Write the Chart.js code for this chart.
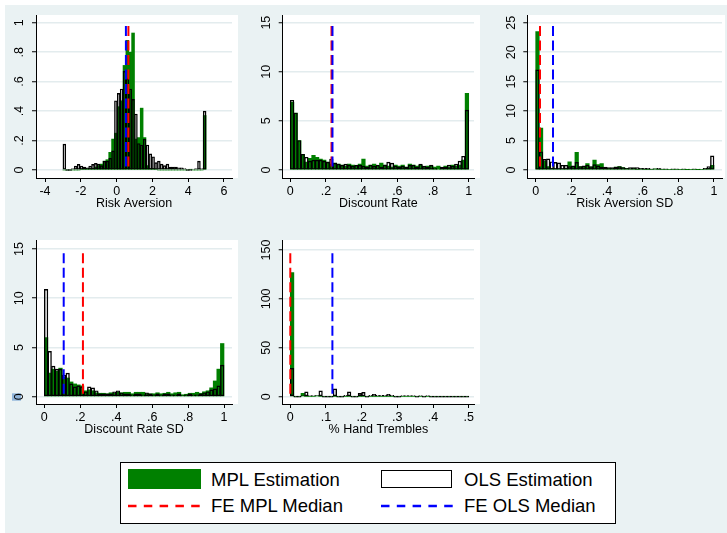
<!DOCTYPE html>
<html>
<head>
<meta charset="utf-8">
<script src="https://cdn.jsdelivr.net/npm/chart.js@4.4.1/dist/chart.umd.min.js"></script>
<style>
  html, body { margin: 0; padding: 0; background: #fff; }
  #page { position: relative; width: 727px; height: 533px; overflow: hidden; background: #fff; }
  #bg { position: absolute; left: 5px; top: 5px; right: 0; bottom: 0; background: #eaf2f3; }
  canvas { position: absolute; }
  #legend { position: absolute; left: 120px; top: 462px; width: 494px; height: 60px;
            border: 1px solid #000; background: #fff;
            font-family: "Liberation Sans", Arial, Helvetica, sans-serif; font-size: 18.5px; color: #000; }
  #legend .key { position: absolute; }
  #legend .txt { position: absolute; height: 22px; line-height: 22px; white-space: nowrap; }
</style>
</head>
<body>
<div id="page">
  <div id="bg"></div>
  <canvas id="p1" width="242" height="215" style="left:0;top:0"></canvas>
  <canvas id="p2" width="242" height="215" style="left:242px;top:0"></canvas>
  <canvas id="p3" width="243" height="215" style="left:484px;top:0"></canvas>
  <canvas id="p4" width="242" height="216" style="left:0;top:225px"></canvas>
  <canvas id="p5" width="242" height="216" style="left:242px;top:225px"></canvas>
  <div id="legend">
    <div class="key" style="left:7px;top:6px;width:73px;height:20px;background:#008000"></div>
    <div class="txt" style="left:90px;top:6px">MPL Estimation</div>
    <div class="key" style="left:260px;top:7px;width:69px;height:16px;border:1.5px solid #000;background:#fff"></div>
    <div class="txt" style="left:343px;top:6px">OLS Estimation</div>
    <svg class="key" style="left:7px;top:40px" width="76" height="6">
      <line x1="0" y1="3" x2="74" y2="3" stroke="#ff0000" stroke-width="2.5" stroke-dasharray="8.5 7.3"/>
    </svg>
    <div class="txt" style="left:90px;top:32px">FE MPL Median</div>
    <svg class="key" style="left:260px;top:40px" width="76" height="6">
      <line x1="0" y1="3" x2="74" y2="3" stroke="#0000ff" stroke-width="2.5" stroke-dasharray="8.5 7.3"/>
    </svg>
    <div class="txt" style="left:343px;top:32px">FE OLS Median</div>
  </div>
</div>
<script>
// ---- Histogram data (density per bin) ----
// Risk Aversion: 50 bins from -3 to 5
const raBinStart = -3, raBinWidth = 0.16;
const raMPL = [0, 0, 0, 0, 0, 0, 0.005, 0.01, 0.01, 0.01,
               0.01, 0.02, 0.03, 0.04, 0.06, 0.07, 0.12, 0.21, 0.25, 0.43,
               0.47, 0.71, 0.88, 0.80, 0.93, 0.21, 0.22, 0.42, 0.22, 0.03,
               0.01, 0.01, 0.005, 0, 0, 0, 0, 0, 0, 0,
               0, 0, 0, 0, 0.005, 0, 0, 0, 0, 0.37];
const raOLS = [0.176, 0, 0, 0.01, 0.027, 0.038, 0.027, 0.02, 0.015, 0.027,
               0.038, 0.045, 0.04, 0.03, 0.06, 0.06, 0.08, 0.13, 0.47, 0.52,
               0.55, 0.67, 0.62, 0.55, 0.48, 0.38, 0.18, 0.17, 0.21, 0.17,
               0.11, 0.09, 0.05, 0.06, 0.04, 0.03, 0.04, 0.02, 0.02, 0.02,
               0.015, 0.015, 0.01, 0, 0, 0.005, 0.01, 0.06, 0.01, 0.40];

// Discount Rate: 50 bins from 0 to 1
const drBinStart = 0, drBinWidth = 0.02;
const drMPL = [6.9, 5.8, 3.0, 1.6, 0.8, 1.2, 1.5, 1.3, 1.1, 1.0,
               0.8, 0.6, 0.7, 0.6, 0.5, 0.4, 0.6, 0.5, 0.4, 0.6,
               1.1, 0.4, 0.5, 0.6, 0.4, 0.7, 0.5, 0.4, 0.3, 0.5,
               0.4, 0.5, 0.3, 0.6, 0.5, 0.4, 0.5, 0.3, 0.4, 0.4,
               0.3, 0.4, 0.2, 0.4, 0.3, 0.5, 0.4, 0.5, 1.0, 7.8];
const drOLS = [7.1, 5.8, 3.0, 1.6, 1.3, 0.9, 1.0, 1.0, 1.0, 0.9,
               0.8, 1.1, 0.7, 0.6, 0.5, 0.6, 0.5, 0.4, 0.5, 0.5,
               0.4, 0.3, 0.5, 0.4, 0.5, 0.3, 0.5, 0.8, 0.7, 0.4,
               0.3, 0.4, 0.3, 0.5, 0.5, 0.3, 0.6, 0.4, 0.3, 0.5,
               0.2, 0.1, 0.3, 0.3, 0.5, 0.4, 0.6, 0.9, 1.4, 6.1];

// Risk Aversion SD: 50 bins from 0 to 1
const rasdBinStart = 0, rasdBinWidth = 0.02;
const rasdMPL = [23.5, 7.1, 1.5, 0.6, 0.3, 0.2, 0.2, 0.2, 0.3, 1.4,
                 0.6, 3.0, 0.6, 0.6, 1.1, 0.5, 1.7, 0.9, 1.1, 0.4,
                 0.3, 0.3, 0.5, 0.6, 0.4, 0.3, 0.2, 0.3, 0.1, 0.2,
                 0.1, 0.1, 0.1, 0.2, 0.1, 0.1, 0.1, 0.1, 0.1, 0.1,
                 0.1, 0.1, 0.05, 0.1, 0.1, 0.05, 0.1, 0.2, 0.3, 0.8];
const rasdOLS = [17.0, 3.1, 1.8, 1.9, 1.4, 1.3, 1.2, 0.8, 0.8, 0.6,
                 0.7, 1.3, 0.6, 0.7, 0.8, 0.6, 0.9, 0.7, 0.5, 0.5,
                 0.4, 0.4, 0.5, 0.6, 0.4, 0.3, 0.4, 0.4, 0.4, 0.3,
                 0.3, 0.3, 0.2, 0.2, 0.3, 0.2, 0.2, 0.1, 0.2, 0.2,
                 0.1, 0.2, 0.1, 0.1, 0.2, 0.1, 0.1, 0.3, 0.6, 2.4];

// Discount Rate SD: 50 bins from 0 to 1
const drsdBinStart = 0, drsdBinWidth = 0.02;
const drsdMPL = [6.0, 2.4, 2.8, 2.6, 2.9, 2.0, 1.9, 1.5, 1.3, 1.2,
                 1.1, 0.6, 0.7, 0.6, 0.4, 0.35, 0.35, 0.3, 0.4, 0.35,
                 0.45, 0.4, 0.45, 0.45, 0.3, 0.45, 0.45, 0.45, 0.3, 0.3,
                 0.3, 0.4, 0.3, 0.35, 0.45, 0.3, 0.4, 0.45, 0.2, 0.25,
                 0.35, 0.35, 0.45, 0.35, 0.5, 0.6, 0.9, 1.6, 2.8, 5.4];
const drsdOLS = [10.9, 4.6, 3.1, 2.8, 2.8, 2.2, 2.4, 1.3, 1.0, 1.1,
                 1.0, 0.5, 1.0, 0.9, 0.6, 0.3, 0.3, 0.3, 0.3, 0.5,
                 0.6, 0.4, 0.3, 0.3, 0.2, 0.3, 0.3, 0.2, 0.4, 0.3,
                 0.2, 0.3, 0.2, 0.3, 0.3, 0.2, 0.2, 0.3, 0.1, 0.2,
                 0.3, 0.2, 0.2, 0.3, 0.4, 0.5, 0.7, 0.8, 1.1, 3.2];

// % Hand Trembles: 50 bins from 0 to 0.5
const htBinStart = 0, htBinWidth = 0.01;
const htMPL = [127, 0, 0, 3.4, 0, 0, 0, 1, 0, 0,
               0, 0, 0, 0, 0, 0, 0, 0, 0, 0,
               0, 0, 0, 0, 0, 0, 0, 0, 0, 0,
               0, 0, 0, 0, 0, 0, 0, 0, 0, 0,
               0, 0, 0, 0, 0, 0, 0, 0, 0, 0];
const htOLS = [29, 0, 0, 1, 5, 1, 1, 1, 6, 0,
               0, 0, 8, 0, 0, 1.5, 5, 0, 0, 3.4,
               4.4, 0, 1.5, 2.4, 1.5, 1.5, 1.5, 2.4, 1.5, 0,
               0, 1, 1, 1, 1, 0, 1, 0, 1, 0,
               0, 0, 0, 0, 0, 0, 0, 0, 0, 0];

// Fixed-effect medians per panel (Risk Aversion, Discount Rate, RA SD, DR SD, Hand Trembles)
const medianMPL = [0.66, 0.231, 0.024, 0.215, 0];
const medianOLS = [0.52, 0.2365, 0.097, 0.108, 0.118];
const medianLineTop = [0.978, 14.66, 24.44, 14.56, 146.6];

// Axis ticks and labels
const unitTicks = [0, 0.2, 0.4, 0.6, 0.8, 1];
const unitLabels = ['0', '.2', '.4', '.6', '.8', '1'];
const raXTicks = [-4, -2, 0, 2, 4, 6];
const raXLabels = ['-4', '-2', '0', '2', '4', '6'];
const htXTicks = [0, 0.1, 0.2, 0.3, 0.4, 0.5];
const htXLabels = ['0', '.1', '.2', '.3', '.4', '.5'];
const y15Ticks = [0, 5, 10, 15];
const y15Labels = ['0', '5', '10', '15'];
const y25Ticks = [0, 5, 10, 15, 20, 25];
const y25Labels = ['0', '5', '10', '15', '20', '25'];
const y150Ticks = [0, 50, 100, 150];
const y150Labels = ['0', '50', '100', '150'];

// ---- Drawing ----
const FONT = '"Liberation Sans", Arial, Helvetica, sans-serif';
const FONT_SIZE = 12.5;
Chart.defaults.font.family = FONT;
Chart.defaults.font.size = FONT_SIZE;
Chart.defaults.color = '#000';
Chart.defaults.animation = false;

const measureCtx = document.createElement('canvas').getContext('2d');
function textWidth(t) {
  measureCtx.font = FONT_SIZE + 'px ' + FONT;
  return measureCtx.measureText(t).width;
}

// White plot region behind the axes and bars
const plotFill = {
  id: 'plotFill',
  beforeDraw(chart, args, opts) {
    const a = chart.chartArea;
    const ctx = chart.ctx;
    ctx.save();
    ctx.fillStyle = '#ffffff';
    ctx.fillRect(a.left, a.top, a.right - a.left + (opts.extra || 0), a.bottom - a.top);
    ctx.restore();
  }
};

function histPoints(start, width, values) {
  return values.map((v, i) => ({ x: start + width * (i + 0.5), y: v }));
}

function makePanel(p) {
  const widest = Math.max(...p.yLabels.map(textWidth));
  const yLabelPad = 16 - 4 - widest / 2;
  const tickSetter = (vals) => (scale) => { scale.ticks = vals.map(v => ({ value: v })); };

  new Chart(document.getElementById(p.id), {
    type: 'bar',
    data: {
      datasets: [
        {
          type: 'line', label: 'FE OLS Median',
          data: [{ x: p.olsMedian, y: p.lineTop }, { x: p.olsMedian, y: 0 }],
          borderColor: '#0000ff', borderWidth: 2, borderDash: [10, 4.5],
          pointRadius: 0, fill: false, order: 0
        },
        {
          type: 'line', label: 'FE MPL Median',
          data: [{ x: p.mplMedian, y: p.lineTop }, { x: p.mplMedian, y: 0 }],
          borderColor: '#ff0000', borderWidth: 2, borderDash: [10, 4.5],
          pointRadius: 0, fill: false, order: 1
        },
        {
          label: 'OLS Estimation',
          data: histPoints(p.binStart, p.binWidth, p.ols),
          backgroundColor: 'rgba(0,0,0,0)', borderColor: '#000000',
          borderWidth: 0.75, borderSkipped: false, minBarLength: 1,
          grouped: false, barPercentage: 1, categoryPercentage: 1, order: 2
        },
        {
          label: 'MPL Estimation',
          data: histPoints(p.binStart, p.binWidth, p.mpl),
          backgroundColor: '#008000', borderWidth: 0,
          grouped: false, barPercentage: 1, categoryPercentage: 1, order: 3
        }
      ]
    },
    options: {
      responsive: false,
      animation: false,
      events: [],
      layout: { padding: { left: 0, top: 15, right: p.padRight, bottom: 0 } },
      plugins: {
        legend: { display: false },
        tooltip: { enabled: false },
        plotFill: { extra: p.fillExtra }
      },
      scales: {
        x: {
          type: 'linear', bounds: 'data', offset: false,
          min: p.xMin, max: p.xMax,
          afterBuildTicks: tickSetter(p.xTicks),
          afterFit: (s) => { s.height = 37; },
          ticks: {
            autoSkip: false, minRotation: 0, maxRotation: 0, padding: 1.7,
            callback: (v, i) => p.xLabels[i]
          },
          grid: { offset: false, drawOnChartArea: false, tickLength: 4, tickColor: '#000', tickWidth: 1 },
          border: { display: true, color: '#000', width: 1 },
          title: { display: true, text: p.title, color: '#000', padding: { top: 0, bottom: 3.5 } }
        },
        y: {
          type: 'linear', bounds: 'data', beginAtZero: false,
          min: p.yMin, max: p.yMax,
          afterBuildTicks: tickSetter(p.yTicks),
          afterFit: (s) => { s.width = p.yAxisWidth; },
          ticks: {
            autoSkip: false, minRotation: 90, maxRotation: 90, crossAlign: 'center',
            padding: yLabelPad,
            callback: (v, i) => p.yLabels[i],
            showLabelBackdrop: (ctx) => !!p.markZero && ctx.index === 0,
            backdropColor: '#8fb4da',
            backdropPadding: { top: 0.5, bottom: -6.5, left: 0.5, right: -0.1 }
          },
          grid: { color: '#e3ecee', lineWidth: 1.5, tickLength: 4, tickColor: '#000', tickWidth: 1 },
          border: { display: true, color: '#000', width: 1 }
        }
      }
    },
    plugins: [plotFill]
  });
}

makePanel({
  id: 'p1', title: 'Risk Aversion',
  binStart: raBinStart, binWidth: raBinWidth, mpl: raMPL, ols: raOLS,
  mplMedian: medianMPL[0], olsMedian: medianOLS[0], lineTop: medianLineTop[0],
  xMin: -4.503, xMax: 6.447, xTicks: raXTicks, xLabels: raXLabels,
  yMin: -0.0543, yMax: 1.0523, yTicks: unitTicks, yLabels: unitLabels,
  yAxisWidth: 36, padRight: 10, fillExtra: 6
});
makePanel({
  id: 'p2', title: 'Discount Rate',
  binStart: drBinStart, binWidth: drBinWidth, mpl: drMPL, ols: drOLS,
  mplMedian: medianMPL[1], olsMedian: medianOLS[1], lineTop: medianLineTop[1],
  xMin: -0.0426, xMax: 1.0297, xTicks: unitTicks, xLabels: unitLabels,
  yMin: -0.815, yMax: 15.78, yTicks: y15Ticks, yLabels: y15Labels,
  yAxisWidth: 40.7, padRight: 10, fillExtra: 6
});
makePanel({
  id: 'p3', title: 'Risk Aversion SD',
  binStart: rasdBinStart, binWidth: rasdBinWidth, mpl: rasdMPL, ols: rasdOLS,
  mplMedian: medianMPL[2], olsMedian: medianOLS[2], lineTop: medianLineTop[2],
  xMin: -0.0471, xMax: 1.0449, xTicks: unitTicks, xLabels: unitLabels,
  yMin: -1.358, yMax: 26.31, yTicks: y25Ticks, yLabels: y25Labels,
  yAxisWidth: 43.3, padRight: 5, fillExtra: 3
});
makePanel({
  id: 'p4', title: 'Discount Rate SD',
  binStart: drsdBinStart, binWidth: drsdBinWidth, mpl: drsdMPL, ols: drsdOLS,
  mplMedian: medianMPL[3], olsMedian: medianOLS[3], lineTop: medianLineTop[3],
  xMin: -0.0462, xMax: 1.0445, xTicks: unitTicks, xLabels: unitLabels,
  yMin: -0.741, yMax: 15.91, yTicks: y15Ticks, yLabels: y15Labels,
  yAxisWidth: 36, padRight: 10, fillExtra: 6, markZero: true
});
makePanel({
  id: 'p5', title: '% Hand Trembles',
  binStart: htBinStart, binWidth: htBinWidth, mpl: htMPL, ols: htOLS,
  mplMedian: medianMPL[4], olsMedian: medianOLS[4], lineTop: medianLineTop[4],
  xMin: -0.0213, xMax: 0.5149, xTicks: htXTicks, xLabels: htXLabels,
  yMin: -7.46, yMax: 160.2, yTicks: y150Ticks, yLabels: y150Labels,
  yAxisWidth: 40.7, padRight: 10, fillExtra: 6
});
</script>
</body>
</html>
